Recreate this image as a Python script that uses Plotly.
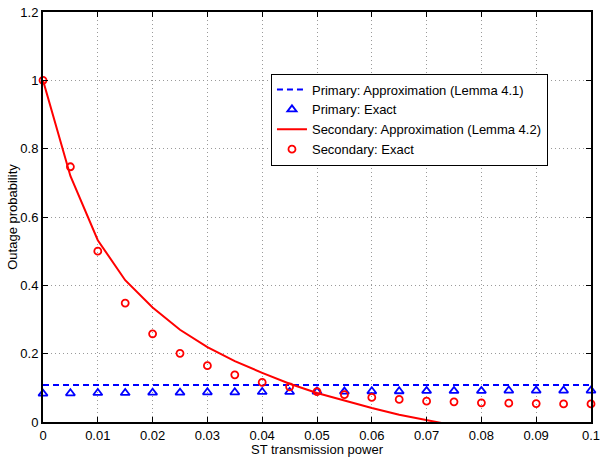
import plotly.graph_objects as go

# ST transmission power samples
power = [0.0, 0.005, 0.01, 0.015, 0.02, 0.025, 0.03, 0.035, 0.04, 0.045, 0.05,
         0.055, 0.06, 0.065, 0.07, 0.075, 0.08, 0.085, 0.09, 0.095, 0.1]

# Primary user outage: approximation (constant) and exact simulation
primary_approx = [0.108] * len(power)
primary_exact = [0.083, 0.084, 0.085, 0.085, 0.086, 0.086, 0.087, 0.087, 0.088, 0.088, 0.089,
                 0.089, 0.090, 0.090, 0.091, 0.091, 0.091, 0.092, 0.092, 0.092, 0.092]

# Secondary user outage: approximation and exact simulation
secondary_approx = [1.0, 0.720, 0.532, 0.415, 0.335, 0.270, 0.219, 0.178, 0.144, 0.112, 0.085,
                    0.062, 0.041, 0.021, 0.005, -0.012, -0.027, -0.041, -0.054, -0.066, -0.077]
secondary_exact = [1.0, 0.747, 0.500, 0.348, 0.258, 0.201, 0.165, 0.138, 0.116, 0.103, 0.089,
                   0.080, 0.072, 0.066, 0.061, 0.059, 0.056, 0.055, 0.054, 0.053, 0.053]

x_ticks = [0, 0.01, 0.02, 0.03, 0.04, 0.05, 0.06, 0.07, 0.08, 0.09, 0.1]
x_tick_text = ["0", "0.01", "0.02", "0.03", "0.04", "0.05", "0.06", "0.07", "0.08", "0.09", "0.1"]
y_ticks = [0, 0.2, 0.4, 0.6, 0.8, 1.0, 1.2]
y_tick_text = ["0", "0.2", "0.4", "0.6", "0.8", "1", "1.2"]

fig = go.Figure()
fig.add_trace(go.Scatter(x=power, y=primary_approx, mode="lines",
                         name="Primary: Approximation (Lemma 4.1)",
                         line=dict(color="#0000ff", width=2, dash="6px,4px")))
fig.add_trace(go.Scatter(x=power, y=primary_exact, mode="markers",
                         name="Primary: Exact", cliponaxis=False,
                         marker=dict(symbol="triangle-up-open", color="#0000ff", size=8,
                                     line=dict(width=1.8, color="#0000ff"))))
fig.add_trace(go.Scatter(x=power, y=secondary_approx, mode="lines",
                         name="Secondary: Approximation (Lemma 4.2)",
                         line=dict(color="#ff0000", width=2)))
fig.add_trace(go.Scatter(x=power, y=secondary_exact, mode="markers",
                         name="Secondary: Exact", cliponaxis=False,
                         marker=dict(symbol="circle-open", color="#ff0000", size=7,
                                     line=dict(width=1.8, color="#ff0000"))))

axis_common = dict(showline=True, linecolor="black", linewidth=2, mirror="ticks",
                   ticks="inside", ticklen=5, tickcolor="black", tickwidth=1,
                   showgrid=True, gridcolor="#9a9a9a", griddash="1px,3px", gridwidth=1,
                   zeroline=False, tickfont=dict(size=13, color="black"),
                   ticklabeloverflow="allow")

fig.update_layout(
    width=605, height=457,
    margin=dict(l=43, r=5, t=9, b=31),
    paper_bgcolor="white", plot_bgcolor="white",
    font=dict(family="Liberation Sans, Arial, sans-serif", size=13, color="black"),
    xaxis=dict(range=[0, 0.1], tickvals=x_ticks, ticktext=x_tick_text,
               title=dict(text="ST transmission power", standoff=0, font=dict(size=13)),
               **axis_common),
    yaxis=dict(range=[0, 1.2], tickvals=y_ticks, ticktext=y_tick_text,
               title=dict(text="Outage probability", standoff=0, font=dict(size=13)),
               **axis_common),
    legend=dict(x=0.416, y=0.85, xanchor="left", yanchor="top",
                bgcolor="white", bordercolor="black", borderwidth=1,
                font=dict(size=13), tracegroupgap=0, itemwidth=30),
    showlegend=True,
)

fig.write_html("out.html")
